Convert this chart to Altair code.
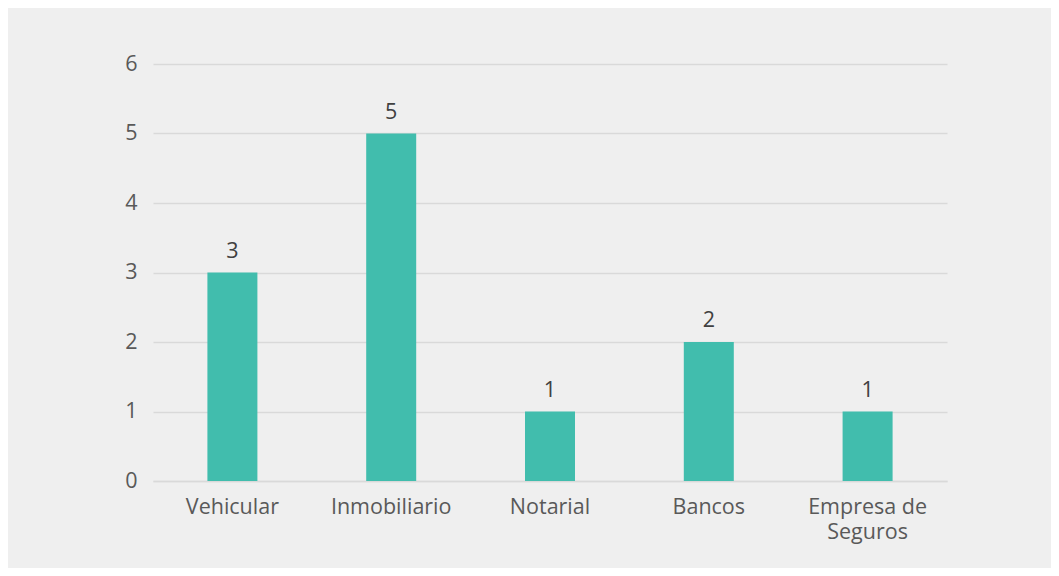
import altair as alt
import pandas as pd

categories = ["Vehicular", "Inmobiliario", "Notarial", "Bancos", "Empresa de Seguros"]
values = [3, 5, 1, 2, 1]
y_ticks = [0, 1, 2, 3, 4, 5, 6]

df = pd.DataFrame({"categoria": categories, "valor": values})

FONT = "Open Sans"
LABEL = "#595959"
GRID = "#d9d9d9"
FS = 21.5

x = alt.X(
    "categoria:N",
    sort=categories,
    scale=alt.Scale(paddingInner=0, paddingOuter=0),
    axis=alt.Axis(
        title=None,
        labelAngle=0,
        labelFont=FONT,
        labelFontSize=FS,
        labelColor=LABEL,
        labelPadding=15,
        ticks=False,
        domainColor=GRID,
        domainWidth=1.5,
        labelExpr="datum.label == 'Empresa de Seguros' ? ['Empresa de', 'Seguros'] : datum.label",
        labelLineHeight=25,
    ),
)
y = alt.Y(
    "valor:Q",
    scale=alt.Scale(domain=[0, 6], nice=False),
    axis=alt.Axis(
        title=None,
        values=y_ticks,
        labelFont=FONT,
        labelFontSize=FS,
        labelColor=LABEL,
        labelPadding=16,
        ticks=False,
        domain=False,
        gridColor=GRID,
        gridWidth=1.5,
    ),
)

base = alt.Chart(df)
bars = base.mark_bar(size=50, color="#41BDAD").encode(x=x, y=y)
text = base.mark_text(
    font=FONT, fontSize=FS, color="#404040", baseline="alphabetic", dy=-15
).encode(x=x, y=y, text="valor:Q")

chart = (
    alt.layer(bars, text)
    .properties(
        width=794,
        height=417,
        autosize=alt.AutoSizeParams(type="none"),
        padding={"left": 145, "top": 56, "right": 104, "bottom": 87},
        background="#efefef",
    )
    .configure_view(stroke=None)
)

chart.save("out.html", embed_options={"renderer": "svg", "actions": False})
